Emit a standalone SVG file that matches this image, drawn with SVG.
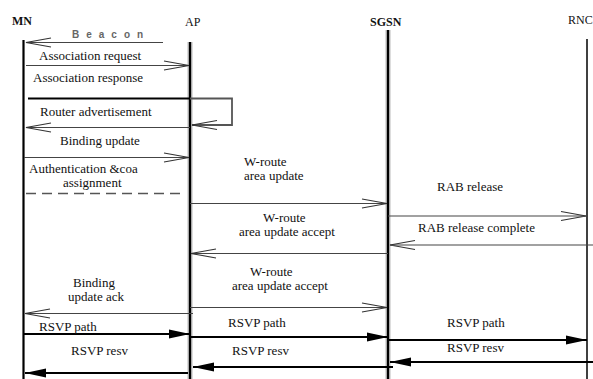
<svg xmlns="http://www.w3.org/2000/svg" width="593" height="379" viewBox="0 0 593 379" font-family="Liberation Serif, serif">
<defs>
<marker id="open" markerUnits="userSpaceOnUse" viewBox="-26 -6 27 12" markerWidth="27" markerHeight="12" refX="0" refY="0" orient="auto">
<path d="M-25,-4.5 L0,0 L-25,4.5" fill="none" stroke="#333" stroke-width="1.2"/>
</marker>
<marker id="fill" markerUnits="userSpaceOnUse" viewBox="-22 -6 23 12" markerWidth="23" markerHeight="12" refX="0" refY="0" orient="auto">
<path d="M-21,-4.5 L0,0 L-21,4.5 Z" fill="#000"/>
</marker>
</defs>
<rect width="593" height="379" fill="#fff"/>

<g id="MN">
<text x="12" y="25" font-family="Liberation Serif, serif" font-size="12" font-weight="bold" fill="#111">MN</text>
<line stroke="#000" stroke-width="2.2" x1="23.5" y1="40" x2="23.5" y2="379"/>
</g>
<g id="AP">
<text x="185" y="26" font-family="Liberation Serif, serif" font-size="12" fill="#111">AP</text>
<line stroke="#bbb" stroke-width="5" x1="190" y1="42" x2="190" y2="379"/>
<line stroke="#000" stroke-width="2.2" x1="190" y1="42" x2="190" y2="379"/>
</g>
<g id="SGSN">
<text x="370" y="26" font-family="Liberation Serif, serif" font-size="12" font-weight="bold" fill="#111">SGSN</text>
<line stroke="#bbb" stroke-width="5" x1="388" y1="30" x2="388" y2="379"/>
<line stroke="#000" stroke-width="2.2" x1="388" y1="30" x2="388" y2="379"/>
</g>
<g id="RNC">
<text x="568" y="24" font-family="Liberation Serif, serif" font-size="12" fill="#111">RNC</text>
<line stroke="#000" stroke-width="1.5" x1="587" y1="39" x2="587" y2="379"/>
</g>

<g id="connectors" fill="none">
<g stroke="#444" stroke-width="1.2" marker-end="url(#open)">
<line x1="163" y1="42.5" x2="26" y2="42.5"/>
<line x1="26" y1="65.5" x2="189" y2="65.5"/>
<line x1="190" y1="127.5" x2="26" y2="127.5"/>
<line x1="24" y1="157.5" x2="189" y2="157.5"/>
<line x1="190" y1="203.5" x2="387" y2="203.5"/>
<line x1="388" y1="216" x2="586" y2="216"/>
<line x1="593" y1="245" x2="390" y2="245"/>
<line x1="388" y1="253.5" x2="191" y2="253.5"/>
<line x1="190" y1="307.5" x2="387" y2="307.5"/>
<line x1="193" y1="313.5" x2="25" y2="313.5"/>
</g>
<line stroke="#000" stroke-width="1.8" x1="28" y1="98.5" x2="190" y2="98.5"/>
<path d="M190,98.5 H232 V125 H192" stroke="#555" stroke-width="1.8" marker-end="url(#open)"/>
<line stroke="#555" stroke-width="1.3" stroke-dasharray="10,6" x1="26" y1="193.5" x2="186" y2="193.5"/>
<g stroke="#000" stroke-width="1.8" marker-end="url(#fill)">
<line x1="24" y1="334" x2="190" y2="334"/>
<line x1="190" y1="337" x2="388" y2="337"/>
<line x1="388" y1="340" x2="587" y2="340"/>
<line x1="593" y1="362" x2="390" y2="362"/>
<line x1="393" y1="367" x2="193" y2="367"/>
<line x1="188" y1="373" x2="25" y2="373"/>
</g>
</g>

<text x="72" y="38" font-family="Liberation Sans, sans-serif" font-size="10" font-weight="bold" letter-spacing="7" fill="#666">Beacon</text>
<text x="39" y="60" font-family="Liberation Serif, serif" font-size="13" fill="#111">Association request</text>
<text x="33" y="82" font-family="Liberation Serif, serif" font-size="13" fill="#111">Association response</text>
<text x="40" y="116" font-family="Liberation Serif, serif" font-size="13" fill="#111">Router advertisement</text>
<text x="60" y="145" font-family="Liberation Serif, serif" font-size="13" fill="#111">Binding update</text>
<text x="29" y="173" font-family="Liberation Serif, serif" font-size="13" fill="#111">Authentication &amp;coa</text>
<text x="63" y="187" font-family="Liberation Serif, serif" font-size="13" fill="#111">assignment</text>
<text x="244" y="166" font-family="Liberation Serif, serif" font-size="13" fill="#111">W-route</text>
<text x="244" y="180" font-family="Liberation Serif, serif" font-size="13" fill="#111">area update</text>
<text x="437" y="191" font-family="Liberation Serif, serif" font-size="13" fill="#111">RAB release</text>
<text x="263" y="222" font-family="Liberation Serif, serif" font-size="13" fill="#111">W-route</text>
<text x="239" y="236" font-family="Liberation Serif, serif" font-size="13" fill="#111">area update accept</text>
<text x="418" y="232" font-family="Liberation Serif, serif" font-size="13" fill="#111">RAB release complete</text>
<text x="250" y="276" font-family="Liberation Serif, serif" font-size="13" fill="#111">W-route</text>
<text x="232" y="290" font-family="Liberation Serif, serif" font-size="13" fill="#111">area update accept</text>
<text x="73" y="287" font-family="Liberation Serif, serif" font-size="13" fill="#111">Binding</text>
<text x="68" y="301" font-family="Liberation Serif, serif" font-size="13" fill="#111">update ack</text>
<text x="39" y="331" font-family="Liberation Serif, serif" font-size="13" fill="#111">RSVP path</text>
<text x="228" y="327" font-family="Liberation Serif, serif" font-size="13" fill="#111">RSVP path</text>
<text x="447" y="327" font-family="Liberation Serif, serif" font-size="13" fill="#111">RSVP path</text>
<text x="71" y="355" font-family="Liberation Serif, serif" font-size="13" fill="#111">RSVP resv</text>
<text x="232" y="355" font-family="Liberation Serif, serif" font-size="13" fill="#111">RSVP resv</text>
<text x="447" y="352" font-family="Liberation Serif, serif" font-size="13" fill="#111">RSVP resv</text>
</svg>
